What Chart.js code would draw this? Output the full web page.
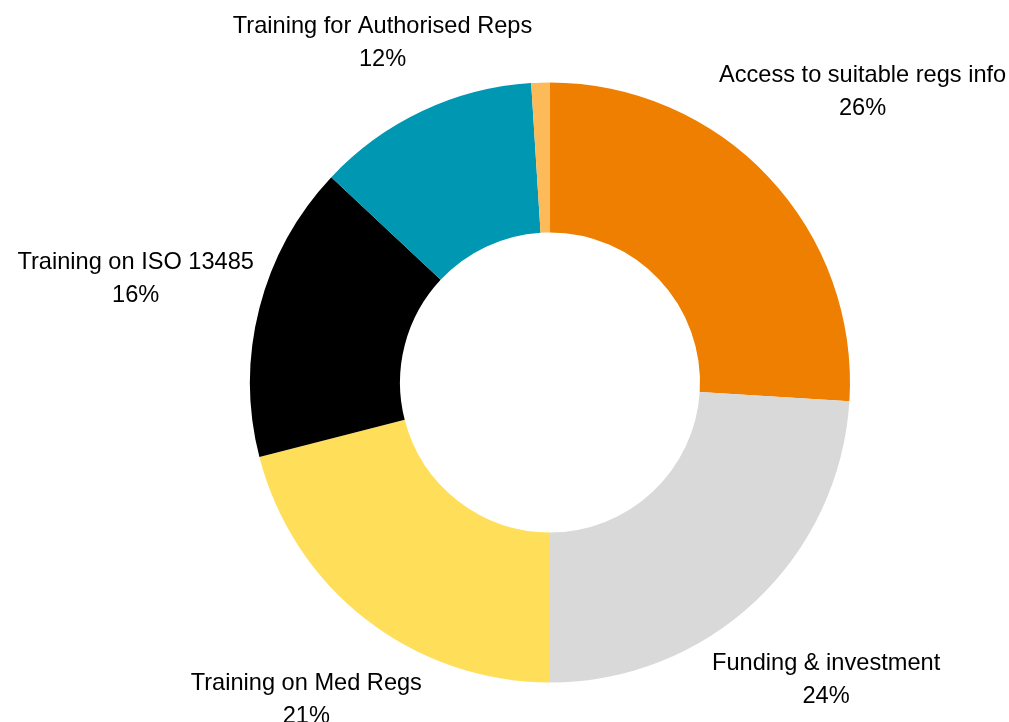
<!DOCTYPE html>
<html>
<head>
<meta charset="utf-8">
<script src="https://cdn.jsdelivr.net/npm/chart.js@4/dist/chart.umd.min.js"></script>
<style>
  html, body { margin: 0; padding: 0; background: #fff; }
  #wrap { position: relative; width: 1009px; height: 722px; }
</style>
</head>
<body>
<div id="wrap"><canvas id="chart"></canvas></div>
<script>
const categories = [
  'Access to suitable regs info',
  'Funding & investment',
  'Training on Med Regs',
  'Training on ISO 13485',
  'Training for Authorised Reps',
  ''
];
const shares = [26, 24, 21, 16, 12, 1];
const sliceColors = ['#EF7F00', '#D9D9D9', '#FFDE59', '#000000', '#0097B2', '#FDBA58'];

const labelFont = '23.6px "Liberation Sans", Arial, sans-serif';
const lineHeight = 33;

// labels sit just outside each slice, on its mid angle, kept inside the canvas top
const outsideLabels = {
  id: 'outsideLabels',
  afterDatasetsDraw(chart) {
    const { ctx } = chart;
    const meta = chart.getDatasetMeta(0);
    ctx.save();
    ctx.font = labelFont;
    ctx.fillStyle = '#000';
    ctx.textAlign = 'center';
    ctx.textBaseline = 'middle';
    meta.data.forEach((arc, i) => {
      if (!categories[i]) return;
      const lines = [categories[i], shares[i] + '%'];
      const w = Math.max(...lines.map((l) => ctx.measureText(l).width));
      const h = lineHeight + 17;
      const mid = (arc.startAngle + arc.endAngle) / 2;
      const cos = Math.cos(mid);
      const sin = Math.sin(mid);
      const r = arc.outerRadius + 7 + (w / 2) * Math.abs(cos) + (h / 2) * Math.abs(sin);
      const cx = arc.x + r * cos;
      const cy = Math.max(arc.y + r * sin + 3, 26 + lineHeight / 2);
      ctx.fillText(lines[0], cx, cy - lineHeight / 2);
      ctx.fillText(lines[1], cx, cy + lineHeight / 2);
    });
    ctx.restore();
  }
};

new Chart(document.getElementById('chart'), {
  type: 'doughnut',
  data: {
    labels: categories,
    datasets: [{
      data: shares,
      backgroundColor: sliceColors,
      borderWidth: 0,
      hoverOffset: 0
    }]
  },
  options: {
    responsive: true,
    maintainAspectRatio: false,
    animation: false,
    cutout: '50%',
    layout: { padding: { top: 82, bottom: 39, left: 250, right: 159 } },
    plugins: {
      legend: { display: false },
      tooltip: { enabled: false }
    }
  },
  plugins: [outsideLabels]
});
</script>
</body>
</html>
